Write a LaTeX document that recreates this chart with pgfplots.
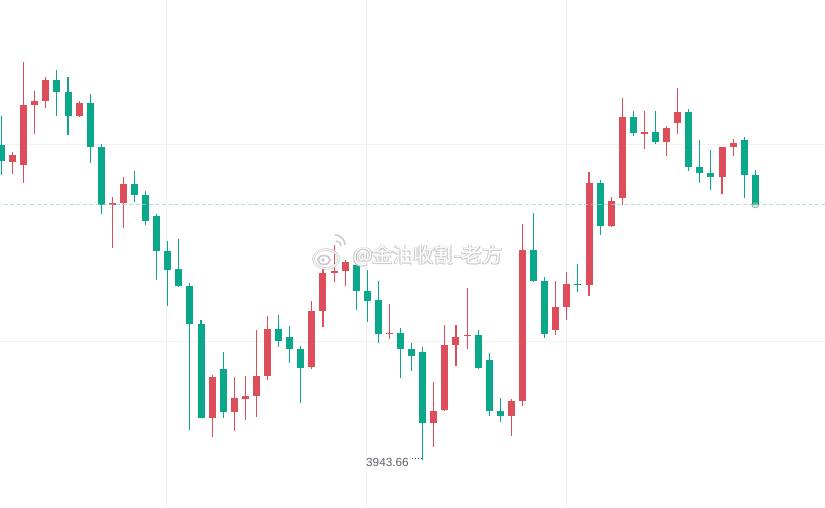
\documentclass[border=0pt]{standalone}
\usepackage{pgfplots}
\pgfplotsset{compat=1.18}
\usepackage{pgfplotstable}
\usepackage{fontspec}
\setmainfont{Liberation Sans}
\newfontfamily\cjk{Noto Sans CJK SC}
\definecolor{upc}{RGB}{221,78,90}
\definecolor{dnc}{RGB}{10,167,139}
\definecolor{gridc}{RGB}{241,241,244}
\definecolor{pline}{RGB}{150,215,198}
\definecolor{lblc}{RGB}{95,95,105}

% red = close above open
\pgfplotstableread{
i o h l c
1 4018.23 4020.58 4015.23 4019.91
2 4017.48 4043.16 4012.98 4032.41
3 4032.41 4035.91 4025.23 4033.41
4 4033.48 4039.41 4031.73 4038.66
7 4029.73 4033.41 4029.48 4032.91
10 4007.66 4009.41 3996.73 4007.91
11 4007.98 4014.41 4001.73 4012.66
19 3954.23 3964.91 3949.48 3964.41
21 3955.73 3964.41 3950.98 3959.16
22 3958.98 3964.66 3953.73 3959.66
23 3959.73 3976.16 3954.48 3964.66
24 3964.73 3979.66 3963.73 3976.41
28 3966.98 3983.41 3966.48 3980.91
29 3980.98 3991.91 3976.98 3990.41
30 3990.58 3997.41 3988.23 3990.73
31 3990.98 3993.66 3987.23 3993.16
35 3975.23 3982.73 3973.98 3975.41
39 3952.98 3963.16 3946.98 3955.91
40 3956.23 3977.41 3956.03 3972.41
41 3972.48 3977.41 3967.23 3974.41
42 3974.73 3986.66 3971.48 3974.91
46 3954.73 3958.98 3949.73 3958.41
47 3958.48 4002.66 3957.23 3996.16
50 3976.23 3988.41 3974.98 3981.91
51 3981.98 3990.66 3978.73 3987.66
53 3987.48 4015.66 3984.73 4012.91
55 4002.23 4009.41 4001.98 4008.41
56 4009.23 4034.16 4007.48 4029.41
58 4025.48 4030.91 4021.48 4025.58
60 4023.23 4027.16 4019.73 4026.66
61 4027.98 4036.66 4025.23 4030.66
65 4014.48 4021.91 4010.23 4021.91
66 4021.98 4023.91 4019.73 4022.91
}\upT

% green = close below open
\pgfplotstableread{
i o h l c
0 4022.41 4029.66 4014.91 4018.48
5 4038.66 4041.16 4029.66 4035.73
6 4035.66 4039.41 4024.91 4029.73
8 4032.91 4035.16 4017.98 4021.98
9 4021.91 4022.66 4005.23 4007.48
12 4012.66 4015.91 4008.23 4009.98
13 4009.91 4010.91 4002.48 4003.48
14 4004.66 4005.16 3988.73 3995.98
15 3995.91 3998.41 3982.23 3991.23
16 3991.41 3998.91 3986.98 3987.23
17 3987.16 3987.91 3951.23 3977.73
18 3977.66 3978.66 3954.16 3954.23
20 3966.41 3970.66 3954.23 3955.73
25 3976.41 3979.91 3971.98 3973.48
26 3974.41 3977.16 3967.98 3971.48
27 3971.41 3972.16 3957.98 3966.73
32 3992.41 3994.91 3981.23 3985.98
33 3985.91 3991.16 3978.23 3983.48
34 3983.66 3988.41 3972.98 3975.23
36 3975.41 3976.66 3964.23 3971.48
37 3971.41 3972.91 3965.98 3969.73
38 3970.66 3971.98 3943.66 3952.98
43 3974.91 3976.23 3966.48 3966.73
44 3968.66 3970.41 3954.73 3955.98
45 3955.91 3959.16 3953.23 3954.73
48 3996.16 4005.41 3988.23 3988.48
49 3988.41 3989.41 3974.23 3975.23
52 3987.66 3992.66 3985.73 3987.48
54 4012.91 4013.66 3999.98 4002.23
57 4029.41 4030.91 4024.73 4025.48
59 4025.66 4030.91 4022.73 4023.23
62 4030.66 4031.41 4015.98 4016.98
63 4016.91 4023.66 4012.98 4015.48
64 4015.41 4021.16 4011.23 4014.48
67 4023.66 4024.41 4009.23 4014.98
68 4014.91 4016.16 4007.41 4007.53
}\dnT

\pgfplotsset{
  wick/.style={draw=none, mark=none, forget plot,
    error bars/.cd, y dir=both, y explicit, error mark=none,
    error bar style={line width=1.1pt, draw=#1}},
  body/.style={draw=none, mark=none, forget plot,
    error bars/.cd, y dir=both, y explicit, error mark=none,
    error bar style={line width=7pt, draw=#1}},
}

\begin{document}
\begin{tikzpicture}[x=1pt,y=1pt]
\useasboundingbox (0,0) rectangle (825,507);
\fill[white] (0,0) rectangle (825,507);
\begin{axis}[at={(0,0)}, anchor=south west, scale only axis,
  width=825pt, height=507pt,
  xmin=-0.1353, xmax=74.29, ymin=3931.91, ymax=4058.66,
  hide axis, xtick=\empty, ytick=\empty,
  clip=true]
% faint grid
\addplot[gridc, line width=1pt, forget plot] coordinates {(14.93,3900) (14.93,4100)};
\addplot[gridc, line width=1pt, forget plot] coordinates {(32.97,3900) (32.97,4100)};
\addplot[gridc, line width=1pt, forget plot] coordinates {(51.01,3900) (51.01,4100)};
\addplot[gridc, line width=1pt, forget plot] coordinates {(-1,3973.41) (80,3973.41)};
\addplot[gridc, line width=1pt, forget plot] coordinates {(-1,4022.41) (80,4022.41)};
% candles
\addplot[wick=upc] table[x=i, y expr={(\thisrow{h}+\thisrow{l})/2}, y error expr={(\thisrow{h}-\thisrow{l})/2}] {\upT};
\addplot[body=upc] table[x=i, y expr={(\thisrow{o}+\thisrow{c})/2}, y error expr={max(abs(\thisrow{o}-\thisrow{c})/2,0.17)}] {\upT};
\addplot[wick=dnc] table[x=i, y expr={(\thisrow{h}+\thisrow{l})/2}, y error expr={(\thisrow{h}-\thisrow{l})/2}] {\dnT};
\addplot[body=dnc] table[x=i, y expr={(\thisrow{o}+\thisrow{c})/2}, y error expr={max(abs(\thisrow{o}-\thisrow{c})/2,0.17)}] {\dnT};
% current price line
\addplot[pline, line width=1.6pt, dash pattern=on 4pt off 2.6pt, opacity=0.75, forget plot] coordinates {(-1,4007.53) (80,4007.53)};
\addplot[only marks, mark=*, mark size=3.5pt, mark options={draw=none, fill=pline, opacity=0.45}, forget plot] coordinates {(68,4007.53)};
\end{axis}
% low label
\node[anchor=east, text=lblc, font=\fontsize{11.8}{12}\selectfont, inner sep=0pt] at (409,45) {3943.66};
\draw[lblc, line width=1pt, dash pattern=on 1pt off 2pt] (411.5,48.5) -- (423,48.5);
% watermark: white text with a soft grey edge
\foreach \dx/\dy in {0.8/-0.8,-0.8/0.8,0.8/0.8,-0.8/-0.8}{
  \node[text=black!20, font=\cjk\fontsize{20.5}{22}\selectfont, inner sep=0pt] at (428+\dx,251+\dy) {@金油收割-老方};
}
\node[text=white, font=\cjk\fontsize{20.5}{22}\selectfont, inner sep=0pt] at (428,251) {@金油收割-老方};
\draw[black!20, line width=2.6pt] (326,248) ellipse (12.5 and 9.5);
\draw[white, line width=1.1pt] (326,248) ellipse (12.5 and 9.5);
\draw[black!20, line width=1.8pt] (324,247) ellipse (6 and 4.5);
\fill[black!22] (323,247) circle (1.8);
\draw[black!20, line width=1.6pt] (336,266) arc (90:0:5);
\draw[black!20, line width=1.6pt] (335,272) arc (90:0:10);
\end{tikzpicture}
\end{document}
